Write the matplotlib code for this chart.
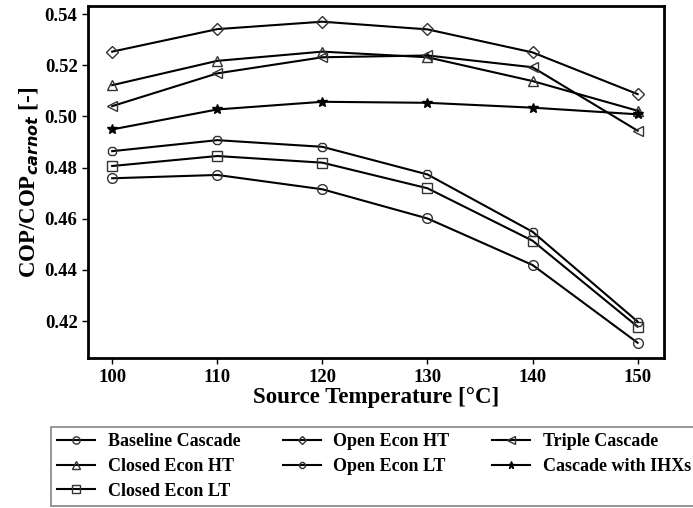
import numpy as np
import matplotlib
matplotlib.use('Agg')
import matplotlib.pyplot as plt

plt.rcParams['font.family'] = ['Liberation Serif', 'DejaVu Serif']
plt.rcParams['font.weight'] = 'bold'
plt.rcParams['mathtext.fontset'] = 'custom'
plt.rcParams['mathtext.it'] = 'DejaVu Sans:italic'
plt.rcParams['mathtext.rm'] = 'Liberation Serif:bold'

temps = [100, 110, 120, 130, 140, 150]

baseline = [0.4758, 0.4771, 0.4715, 0.4601, 0.4419, 0.4115]
closed_ht = [0.5122, 0.5217, 0.5253, 0.5231, 0.5138, 0.5022]
closed_lt = [0.4806, 0.4845, 0.4819, 0.4719, 0.4514, 0.4178]
open_ht = [0.5253, 0.5341, 0.5370, 0.5340, 0.5250, 0.5087]
open_lt = [0.4864, 0.4907, 0.4881, 0.4773, 0.4549, 0.4198]
triple = [0.5040, 0.5168, 0.5231, 0.5238, 0.5192, 0.4944]
ihx = [0.4949, 0.5027, 0.5057, 0.5053, 0.5034, 0.5008]

series = [
    ('Baseline Cascade', baseline, 'o'),
    ('Closed Econ HT', closed_ht, '^'),
    ('Closed Econ LT', closed_lt, 's'),
    ('Open Econ HT', open_ht, 'D'),
    ('Open Econ LT', open_lt, '8'),
    ('Triple Cascade', triple, '<'),
    ('Cascade with IHXs', ihx, '*'),
]

fig = plt.figure(figsize=(6.93, 5.08), dpi=100)
ax = fig.add_axes([0.127, 0.295, 0.831, 0.693])

for name, vals, mk in series:
    if mk == '*':
        ax.plot(temps, vals, color='black', lw=1.5, marker=mk, ms=7,
                mfc='black', mec='black', label=name)
    else:
        ms = 6 if mk == 'D' else 7
        ax.plot(temps, vals, color='black', lw=1.5, marker=mk, ms=ms,
                mfc='none', mec='#333333', mew=1.0, label=name)

ax.set_xlim(97.7, 152.5)
ax.set_ylim(0.4055, 0.5431)
ax.set_xticks(temps)
yt = [0.42, 0.44, 0.46, 0.48, 0.50, 0.52, 0.54]
ax.set_yticks(yt)
ax.set_yticklabels(['%.2f' % v for v in yt])
ax.tick_params(labelsize=13.5, width=1, length=4, direction='out')
for lab in ax.get_xticklabels() + ax.get_yticklabels():
    lab.set_fontweight('bold')
for sp in ax.spines.values():
    sp.set_linewidth(2)

ax.set_xlabel('Source Temperature [°C]', fontsize=16.5, fontweight='bold', labelpad=1)
ax.set_ylabel('COP/COP$_{carnot}$ [-]', fontsize=16.5, fontweight='bold', labelpad=3)

handles, labels = ax.get_legend_handles_labels()
leg = fig.legend(handles, labels, loc='upper left', bbox_to_anchor=(0.0736, 0.1594),
                 ncol=3, prop={'size': 13, 'weight': 'bold'}, frameon=True,
                 fancybox=False, edgecolor='#666666', handlelength=2.1,
                 handletextpad=0.7, columnspacing=2.35, borderpad=0.35,
                 labelspacing=0.42, borderaxespad=0, markerscale=0.75)
leg.get_frame().set_linewidth(1.2)

fig.savefig('out.png', dpi=100)
